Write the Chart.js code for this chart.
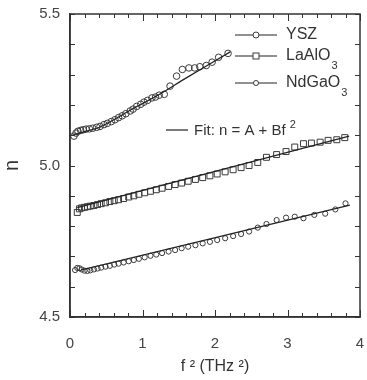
<!DOCTYPE html>
<html>
<head>
<meta charset="utf-8">
<script src="https://cdn.jsdelivr.net/npm/chart.js@4.4.1/dist/chart.umd.min.js"></script>
<style>
  html, body { margin: 0; padding: 0; background: #fff; }
  #chart { display: block; }
</style>
</head>
<body>
<canvas id="chart" width="367" height="380"></canvas>
<script>
// data: f^2 in THz^2, refractive index n
const yszF2 = [0.055, 0.083, 0.11, 0.147, 0.184, 0.221, 0.267, 0.313, 0.368, 0.414, 0.469, 0.515, 0.57, 0.62, 0.67, 0.72, 0.77, 0.83, 0.87, 0.92, 0.975, 1.02, 1.07, 1.13, 1.18, 1.23, 1.30, 1.38, 1.47, 1.55, 1.64, 1.72, 1.79, 1.88, 1.96, 2.05, 2.18];
const yszN  = [5.097, 5.107, 5.113, 5.116, 5.118, 5.120, 5.121, 5.123, 5.126, 5.129, 5.135, 5.139, 5.145, 5.151, 5.158, 5.164, 5.171, 5.180, 5.186, 5.195, 5.202, 5.209, 5.215, 5.223, 5.226, 5.232, 5.235, 5.262, 5.295, 5.317, 5.322, 5.322, 5.326, 5.330, 5.341, 5.357, 5.370];

const laF2 = [0.10, 0.13, 0.16, 0.20, 0.24, 0.28, 0.33, 0.38, 0.43, 0.49, 0.55, 0.61, 0.67, 0.74, 0.81, 0.88, 0.95, 1.03, 1.11, 1.19, 1.27, 1.36, 1.45, 1.54, 1.63, 1.73, 1.83, 1.93, 2.03, 2.14, 2.25, 2.36, 2.47, 2.59, 2.71, 2.85, 2.98, 3.10, 3.22, 3.33, 3.45, 3.56, 3.68, 3.79];
const laN  = [4.845, 4.857, 4.860, 4.862, 4.864, 4.866, 4.868, 4.871, 4.874, 4.877, 4.881, 4.884, 4.887, 4.891, 4.896, 4.900, 4.905, 4.910, 4.915, 4.920, 4.925, 4.931, 4.937, 4.942, 4.948, 4.954, 4.960, 4.966, 4.972, 4.979, 4.986, 4.993, 5.000, 5.010, 5.027, 5.036, 5.046, 5.061, 5.072, 5.074, 5.077, 5.083, 5.085, 5.092];

const ndF2 = [0.07, 0.10, 0.13, 0.16, 0.20, 0.24, 0.28, 0.33, 0.38, 0.43, 0.49, 0.55, 0.61, 0.67, 0.74, 0.81, 0.88, 0.95, 1.03, 1.11, 1.19, 1.27, 1.36, 1.45, 1.54, 1.63, 1.73, 1.83, 1.93, 2.03, 2.14, 2.25, 2.36, 2.47, 2.59, 2.71, 2.85, 2.98, 3.10, 3.22, 3.37, 3.52, 3.66, 3.80];
const ndN  = [4.655, 4.662, 4.661, 4.657, 4.653, 4.652, 4.654, 4.657, 4.660, 4.663, 4.666, 4.669, 4.673, 4.676, 4.680, 4.684, 4.688, 4.692, 4.697, 4.702, 4.706, 4.711, 4.716, 4.721, 4.727, 4.732, 4.737, 4.743, 4.748, 4.754, 4.760, 4.767, 4.774, 4.782, 4.795, 4.807, 4.820, 4.828, 4.831, 4.826, 4.837, 4.841, 4.855, 4.875];

// fit curves as drawn in the figure (traced points)
const yszFitF2 = [0.023, 0.20, 0.414, 0.874, 1.23, 1.61, 2.21];
const yszFitN  = [5.099, 5.112, 5.127, 5.188, 5.234, 5.290, 5.375];
const laFitF2  = [0.10, 3.85];
const laFitN   = [4.861, 5.097];
const ndFitF2  = [0.15, 3.86];
const ndFitN   = [4.655, 4.869];

const xTickLabels = [0, 1, 2, 3, 4];
const yTickLabels = [4.5, 5.0, 5.5];

const FONT = '"Liberation Sans", Arial, sans-serif';
const INK = '#333';

function pts(xs, ys) {
    return xs.map((x, i) => ({ x: x, y: ys[i] }));
}

function markerSet(label, xs, ys, style, r) {
    return {
        label: label,
        data: pts(xs, ys),
        showLine: false,
        pointStyle: style,
        pointRadius: r,
        pointBorderWidth: 1,
        pointBorderColor: '#3a3a3a',
        pointBackgroundColor: 'rgba(255,255,255,0)'
    };
}

function fitSet(xs, ys) {
    return {
        label: 'fit',
        data: pts(xs, ys),
        showLine: true,
        tension: 0.3,
        pointRadius: 0,
        borderColor: '#222',
        borderWidth: 1.2
    };
}

// inward ticks on all four sides plus the frame
const frameTicks = {
    id: 'frameTicks',
    afterDraw(chart) {
        const { ctx, chartArea: a, scales: { x, y } } = chart;
        ctx.save();
        ctx.strokeStyle = INK;
        ctx.lineWidth = 1;
        for (let i = 0; i <= 20; i++) {
            const px = Math.round(x.getPixelForValue(i / 5)) + 0.5;
            const len = i % 5 === 0 ? 7 : 4;
            ctx.beginPath();
            ctx.moveTo(px, a.bottom); ctx.lineTo(px, a.bottom - len);
            ctx.moveTo(px, a.top); ctx.lineTo(px, a.top + len);
            ctx.stroke();
        }
        for (let i = 0; i <= 10; i++) {
            const py = Math.round(y.getPixelForValue(4.5 + i / 10)) + 0.5;
            ctx.beginPath();
            ctx.moveTo(a.left, py); ctx.lineTo(a.left + 5, py);
            ctx.moveTo(a.right, py); ctx.lineTo(a.right - 5, py);
            ctx.stroke();
        }
        ctx.lineWidth = 1.5;
        ctx.strokeRect(a.left, a.top, a.right - a.left, a.bottom - a.top);
        ctx.restore();
    }
};

// legend with subscripts, and the fit note
const legendBox = {
    id: 'legendBox',
    afterDraw(chart) {
        const ctx = chart.ctx;
        const rows = [
            { name: 'YSZ', sub: '', y: 35, shape: 'circle', r: 3 },
            { name: 'LaAlO', sub: '3', y: 56, shape: 'rect', r: 3 },
            { name: 'NdGaO', sub: '3', y: 83, shape: 'dot', r: 2.5 }
        ];
        ctx.save();
        ctx.strokeStyle = '#222';
        ctx.fillStyle = INK;
        ctx.textBaseline = 'middle';
        rows.forEach(row => {
            ctx.lineWidth = 1.2;
            ctx.beginPath();
            ctx.moveTo(235, row.y); ctx.lineTo(277, row.y);
            ctx.stroke();
            ctx.lineWidth = 1;
            ctx.strokeStyle = '#3a3a3a';
            ctx.beginPath();
            if (row.shape === 'rect') {
                ctx.fillStyle = '#fff';
                ctx.fillRect(253, row.y - 3, 6, 6);
                ctx.strokeRect(253, row.y - 3, 6, 6);
            } else {
                ctx.fillStyle = '#fff';
                ctx.arc(256, row.y, row.r, 0, Math.PI * 2);
                ctx.fill();
                ctx.stroke();
            }
            ctx.strokeStyle = '#222';
            ctx.fillStyle = INK;
            ctx.font = '16px ' + FONT;
            ctx.textAlign = 'left';
            ctx.fillText(row.name, 286, row.y);
            if (row.sub) {
                const w = ctx.measureText(row.name).width;
                ctx.font = '11px ' + FONT;
                ctx.fillText(row.sub, 286 + w + 1, row.y + 10);
            }
        });
        ctx.lineWidth = 1.2;
        ctx.beginPath();
        ctx.moveTo(166, 130); ctx.lineTo(188, 130);
        ctx.stroke();
        ctx.font = '15px ' + FONT;
        const fitText = 'Fit: n = A + Bf';
        ctx.fillText(fitText, 194, 131);
        const fw = ctx.measureText(fitText).width;
        ctx.font = '11px ' + FONT;
        ctx.fillText('2', 194 + fw + 4, 125);
        ctx.restore();
    }
};

const ctx = document.getElementById('chart').getContext('2d');
const chart = new Chart(ctx, {
    type: 'scatter',
    data: {
        datasets: [
            fitSet(yszFitF2, yszFitN),
            fitSet(laFitF2, laFitN),
            fitSet(ndFitF2, ndFitN),
            markerSet('YSZ', yszF2, yszN, 'circle', 3.3),
            markerSet('LaAlO3', laF2, laN, 'rect', 4.2),
            markerSet('NdGaO3', ndF2, ndN, 'circle', 2.6)
        ]
    },
    options: {
        responsive: false,
        devicePixelRatio: 1,
        animation: false,
        layout: { padding: { top: 14, right: 7, left: 0, bottom: 0 } },
        plugins: { legend: { display: false }, tooltip: { enabled: false } },
        scales: {
            x: {
                type: 'linear',
                min: 0,
                max: 4,
                afterBuildTicks: s => { s.ticks = xTickLabels.map(v => ({ value: v })); },
                afterFit: s => { s.height = 63; s.paddingLeft = 0; s.paddingRight = 0; },
                grid: { drawOnChartArea: false, drawTicks: false },
                border: { color: INK, width: 1.5 },
                ticks: { padding: 18, color: '#444', font: { family: FONT, size: 15 } },
                title: {
                    display: true,
                    text: 'f ² (THz ²)',
                    color: INK,
                    font: { family: FONT, size: 16 },
                    padding: { top: 0, bottom: 4 }
                }
            },
            y: {
                type: 'linear',
                min: 4.5,
                max: 5.5,
                afterBuildTicks: s => { s.ticks = yTickLabels.map(v => ({ value: v })); },
                afterFit: s => { s.width = 70; s.paddingTop = 0; s.paddingBottom = 0; },
                grid: { drawOnChartArea: false, drawTicks: false },
                border: { color: INK, width: 1.5 },
                ticks: {
                    padding: 10,
                    color: '#444',
                    font: { family: FONT, size: 15 },
                    callback: v => Number(v).toFixed(1)
                },
                title: {
                    display: true,
                    text: 'n',
                    color: INK,
                    font: { family: FONT, size: 20 },
                    padding: { top: 0, bottom: 2 }
                }
            }
        }
    },
    plugins: [frameTicks, legendBox]
});
</script>
</body>
</html>
